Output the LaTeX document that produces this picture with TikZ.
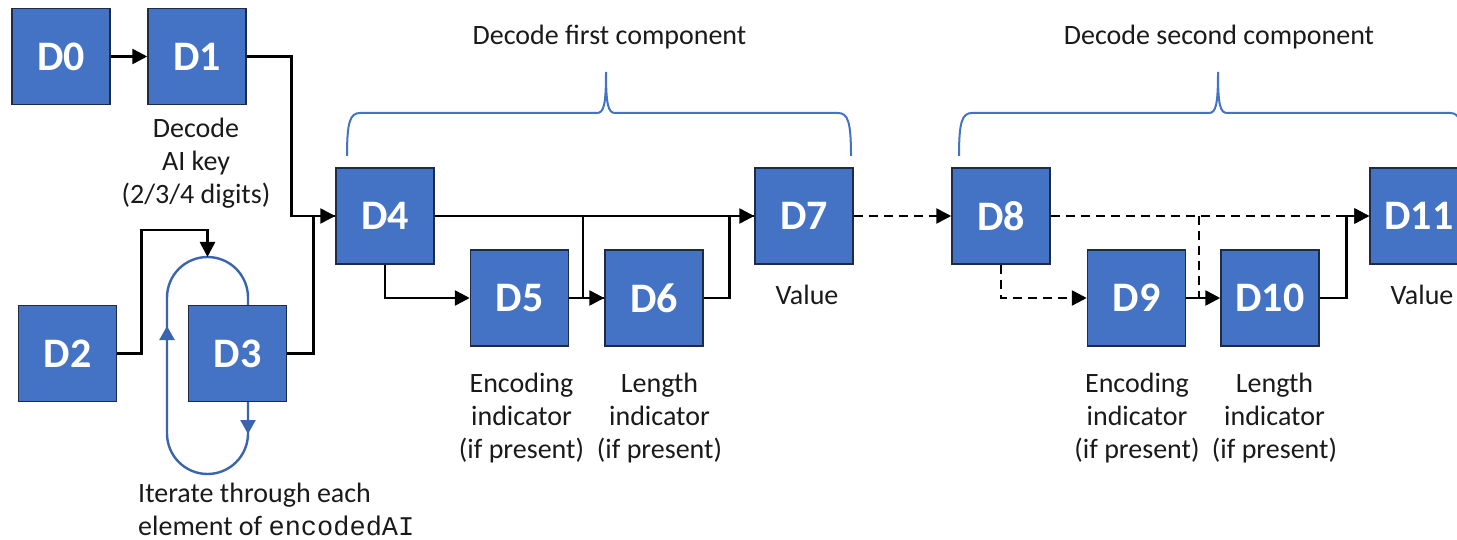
\documentclass[tikz,border=0pt]{standalone}
\usepackage{fontspec}
\setmainfont{Carlito}
\newfontfamily\codefont{Liberation Mono}
\usetikzlibrary{arrows.meta}
\definecolor{boxblue}{HTML}{4472C4}
\definecolor{boxedge}{HTML}{1F2B45}
\definecolor{braceblue}{HTML}{4472C4}
\definecolor{loopblue}{HTML}{3B64AE}
\definecolor{txt}{HTML}{1A1A1A}
\begin{document}
\begin{tikzpicture}[x=1pt,y=-1pt,
 dbox/.style={draw=boxedge,line width=1.5pt,fill=boxblue,minimum width=98pt,minimum height=96pt,inner sep=0pt,text=white,font=\fontsize{42}{50}\selectfont\bfseries},
 lbl/.style={align=center,inner sep=0pt,text=txt,font=\fontsize{28}{33}\selectfont},
 line/.style={line width=2.6pt,black},
 conn/.style={line,-{Triangle[length=15pt,width=15pt]}},
 dline/.style={line,dash pattern=on 9pt off 6pt},
 dconn/.style={dline,-{Triangle[length=15pt,width=15pt]}},
 loopline/.style={line width=2.4pt,loopblue},
 looparrow/.style={loopline,-{Triangle[length=14pt,width=15pt]}},
 bracestyle/.style={line width=2pt,braceblue}
]
\useasboundingbox (0,0) rectangle (1457,540);
\clip (0,0) rectangle (1457,540);

% iteration loop (behind D3)
\draw[loopline, rounded corners=40.5pt] (167,257) rectangle (248,474);
\draw[looparrow] (167,372) -- (167,326);
\draw[looparrow] (248,401) -- (248,434);
\coordinate (looptop) at (207.5,257);

% boxes
\node[dbox] (D0) at (61,56.5) {D0};
\node[dbox] (D1) at (197,56.5) {D1};
\node[dbox] (D2) at (67.5,353.5) {D2};
\node[dbox] (D3) at (237.5,353.5) {D3};
\node[dbox] (D4) at (385,216) {D4};
\node[dbox] (D5) at (519.5,298) {D5};
\node[dbox] (D6) at (654,298) {D6};
\node[dbox] (D7) at (804,216) {D7};
\node[dbox] (D8) at (1001,216) {D8};
\node[dbox] (D9) at (1136.5,298) {D9};
\node[dbox] (D10) at (1270,298) {D10};
\node[dbox] (D11) at (1419,216) {D11};

% junctions
\coordinate (j1) at (583,216);
\coordinate (j2) at (1199,216);

% connectors, left part
\draw[conn] (D0) -- (D1);
\draw[line] (D1.east) -- ++(45,0) |- (D4.west);
\draw[conn] (D3.east) -- ++(26,0) |- (D4.west);
\draw[conn] (D2.east) -- ++(24,0) -- ++(0,-123.5) -| (looptop);

% first component
\draw[conn] (D4.east) -- (D7.west);
\draw[conn] (D4.south) |- (D5.west);
\draw[conn] (D5.east) -- (D6.west);
\draw[line] (j1) |- (D6.west);
\draw[line] (D6.east) -- ++(26,0) |- (D7.west);

% second component
\draw[dconn] (D7.east) -- (D8.west);
\draw[dconn] (D8.east) -- (D11.west);
\draw[dconn] (D8.south) |- (D9.west);
\draw[conn] (D9.east) -- (D10.west);
\draw[dline] (j2) -- (j2 |- D10.west);
\draw[conn] (D10.east) -- ++(27,0) |- (D11.west);

% braces
\draw[bracestyle] (347,156) .. controls (347,122) and (350,113) .. (360,113) -- (597,113) .. controls (604,113) and (606,104) .. (606,72) .. controls (606,104) and (608,113) .. (615,113) -- (838,113) .. controls (848,113) and (851,122) .. (851,156);
\draw[bracestyle] (959,156) .. controls (959,122) and (962,113) .. (972,113) -- (1209,113) .. controls (1216,113) and (1218,104) .. (1218,72) .. controls (1218,104) and (1220,113) .. (1227,113) -- (1450,113) .. controls (1460,113) and (1463,122) .. (1463,156);

% labels
\node[lbl,anchor=base] (t1) at (609.5,45) {Decode first component};
\node[lbl,anchor=base] (t2) at (1219,45) {Decode second component};
\node[lbl,anchor=north] (l1) at (196,117.5) {Decode\\AI key\\(2/3/4 digits)};
\node[lbl,anchor=north] (l5) at (521.5,372.5) {Encoding\\indicator\\(if present)};
\node[lbl,anchor=north] (l6) at (659.5,372.5) {Length\\indicator\\(if present)};
\node[lbl,anchor=base] (l7) at (807,305) {Value};
\node[lbl,anchor=north] (l9) at (1137,372.5) {Encoding\\indicator\\(if present)};
\node[lbl,anchor=north] (l10) at (1274.5,372.5) {Length\\indicator\\(if present)};
\node[lbl,anchor=base] (l11) at (1422,305) {Value};
\node[lbl,anchor=north west,align=left] (it) at (138,482.5) {Iterate through each\\element of {\codefont\fontsize{27}{33}\selectfont encodedAI}};
\end{tikzpicture}
\end{document}
